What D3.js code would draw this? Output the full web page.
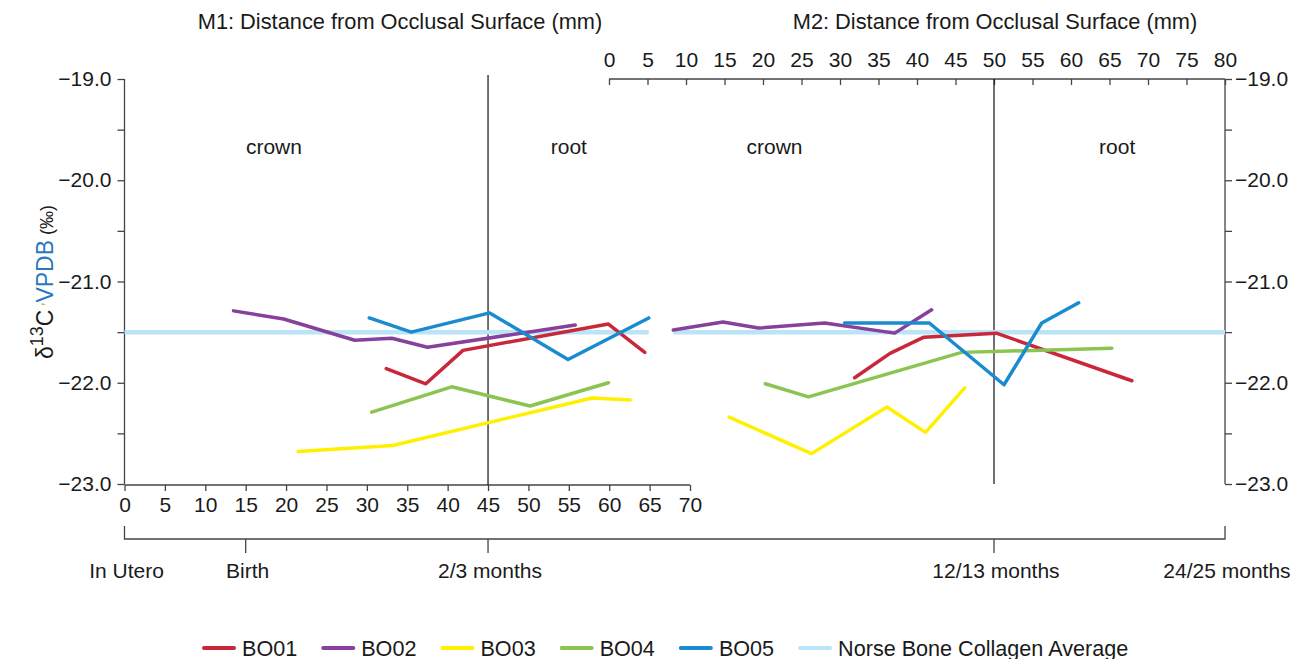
<!DOCTYPE html>
<html>
<head>
<meta charset="utf-8">
<script src="https://cdn.jsdelivr.net/npm/d3@7"></script>
<style>
  body { margin: 0; background: #fff; }
  text { font-family: "Liberation Sans", Arial, sans-serif; fill: #1a1a1a; }
</style>
</head>
<body>
<svg id="plot"></svg>
<script>
// Series names and colours
const seriesNames = ["BO01", "BO02", "BO03", "BO04", "BO05"];
const seriesColors = ["#c8283a", "#87409b", "#fff000", "#8cc452", "#1a8bcf"];

// M1 samples: [distance from occlusal surface (mm), d13C]
const m1BO01 = [[32.4, -21.86], [37.3, -22.01], [41.9, -21.68], [59.9, -21.42], [64.4, -21.70]];
const m1BO02 = [[13.5, -21.29], [19.7, -21.37], [28.5, -21.58], [33.1, -21.56], [37.5, -21.65], [55.8, -21.43]];
const m1BO03 = [[21.5, -22.68], [33.2, -22.62], [57.9, -22.15], [62.6, -22.17]];
const m1BO04 = [[30.6, -22.29], [40.5, -22.04], [50.2, -22.23], [59.9, -22.00]];
const m1BO05 = [[30.3, -21.36], [35.5, -21.50], [45.2, -21.31], [54.9, -21.77], [64.9, -21.36]];

// M2 samples
const m2BO01 = [[31.9, -21.95], [36.5, -21.71], [40.9, -21.55], [50.3, -21.51], [67.9, -21.98]];
const m2BO02 = [[8.35, -21.48], [14.8, -21.40], [19.4, -21.46], [28.0, -21.41], [37.1, -21.51], [41.9, -21.28]];
const m2BO03 = [[15.6, -22.34], [26.3, -22.70], [36.1, -22.24], [41.1, -22.49], [46.2, -22.05]];
const m2BO04 = [[20.3, -22.01], [25.9, -22.14], [45.8, -21.70], [65.3, -21.66]];
const m2BO05 = [[30.6, -21.41], [41.6, -21.41], [51.3, -22.02], [56.2, -21.41], [61.0, -21.21]];

// Norse bone collagen average
const avgValue = -21.5;
const avgM1Span = [0, 64.9];
const avgM2Span = [8.35, 80];

// Axis ticks
const yTicks = d3.range(-23, -18.9, 0.5);
const m1Ticks = d3.range(0, 71, 5);
const m2Ticks = d3.range(0, 81, 5);

// Age timeline: label, tooth, mm
const ageLabels = ["In Utero", "Birth", "2/3 months", "12/13 months", "24/25 months"];
const ageTooth = ["M1", "M1", "M1", "M2", "M2"];
const ageMm = [0, 15, 45, 50, 80];

const W = 1291, H = 659;
const svg = d3.select("#plot").attr("width", W).attr("height", H);

const y = d3.scaleLinear().domain([-23, -19]).range([484, 79]);
const xM1 = d3.scaleLinear().domain([0, 70]).range([124.5, 690]);
const xM2 = d3.scaleLinear().domain([0, 80]).range([609, 1225]);

const fmt = d3.format(".1f");
const axisColor = "#444";

function styleAxis(g) {
  g.selectAll("path, line").attr("stroke", axisColor).attr("stroke-width", 1.3);
  g.selectAll("text").style("font-size", "21px").attr("fill", "#1a1a1a");
}

// Left y axis
svg.append("g")
  .attr("transform", "translate(" + xM1(0) + ",0)")
  .call(d3.axisLeft(y).tickValues(yTicks).tickSize(7).tickPadding(6)
    .tickFormat(d => Number.isInteger(d) ? fmt(d) : ""))
  .call(styleAxis)
  .call(g => g.select(".domain").attr("d", "M0," + y(-19) + "V" + y(-23)));

// Right y axis
svg.append("g")
  .attr("transform", "translate(" + xM2(80) + ",0)")
  .call(d3.axisRight(y).tickValues(yTicks).tickSize(7).tickPadding(3)
    .tickFormat(d => Number.isInteger(d) ? fmt(d) : ""))
  .call(styleAxis)
  .call(g => g.select(".domain").attr("d", "M0," + y(-19) + "V" + y(-23)));

// Bottom M1 axis
svg.append("g")
  .attr("transform", "translate(0," + 485 + ")")
  .call(d3.axisBottom(xM1).tickValues(m1Ticks).tickSize(6).tickPadding(6))
  .call(styleAxis)
  .call(g => g.select(".domain").attr("d", "M" + xM1(0) + ",0H" + xM1(70)));

// Top M2 axis (ticks hang down, labels above)
svg.append("g")
  .attr("transform", "translate(0," + y(-19) + ")")
  .call(d3.axisTop(xM2).tickValues(m2Ticks).tickSizeInner(-6).tickSizeOuter(0).tickPadding(12))
  .call(styleAxis)
  .call(g => g.select(".domain").attr("d", "M" + xM2(0) + ",0H" + xM2(80)));

// Axis titles
svg.append("text").attr("x", 400).attr("y", 29).attr("text-anchor", "middle")
  .style("font-size", "21.8px").text("M1: Distance from Occlusal Surface (mm)");
svg.append("text").attr("x", 995).attr("y", 29).attr("text-anchor", "middle")
  .style("font-size", "21.8px").text("M2: Distance from Occlusal Surface (mm)");

// Y axis label
const yLab = svg.append("text")
  .attr("transform", "translate(53," + 282 + ") rotate(-90)")
  .attr("text-anchor", "middle")
  .style("font-size", "23px");
yLab.append("tspan").text("δ");
yLab.append("tspan").attr("dy", -10).style("font-size", "18px").text("13");
yLab.append("tspan").attr("dy", 10).text("C");
yLab.append("tspan").style("font-size", "14px").attr("fill", "#e08a2c").text(" ʼ");
yLab.append("tspan").attr("fill", "#2a78c0").text("VPDB");
yLab.append("tspan").style("font-size", "18px").text(" (‰)");

// Crown / root divider lines
svg.append("line")
  .attr("x1", xM1(45)).attr("x2", xM1(45)).attr("y1", 75).attr("y2", 485)
  .attr("stroke", "#111").attr("stroke-width", 1.2);
svg.append("line")
  .attr("x1", xM2(50)).attr("x2", xM2(50)).attr("y1", y(-19)).attr("y2", y(-23))
  .attr("stroke", "#111").attr("stroke-width", 1.2);

// Crown / root labels
[[xM1(18.5), "crown"], [xM1(55), "root"], [xM2(21.5), "crown"], [xM2(66), "root"]].forEach(function(d) {
  svg.append("text").attr("x", d[0]).attr("y", 154).attr("text-anchor", "middle")
    .style("font-size", "21px").text(d[1]);
});

// Average line
const avgLine = d3.line();
svg.append("path")
  .attr("d", avgLine(avgM1Span.map(v => [xM1(v), y(avgValue)])))
  .attr("stroke", "#bce4f8").attr("stroke-width", 4.5).attr("fill", "none");
svg.append("path")
  .attr("d", avgLine(avgM2Span.map(v => [xM2(v), y(avgValue)])))
  .attr("stroke", "#bce4f8").attr("stroke-width", 4.5).attr("fill", "none");

// Series lines
const m1Data = [m1BO01, m1BO02, m1BO03, m1BO04, m1BO05];
const m2Data = [m2BO01, m2BO02, m2BO03, m2BO04, m2BO05];
const lineM1 = d3.line().x(d => xM1(d[0])).y(d => y(d[1]));
const lineM2 = d3.line().x(d => xM2(d[0])).y(d => y(d[1]));

seriesNames.forEach(function(name, i) {
  svg.append("path").attr("d", lineM1(m1Data[i]))
    .attr("stroke", seriesColors[i]).attr("stroke-width", 3.5)
    .attr("stroke-linecap", "round").attr("stroke-linejoin", "round").attr("fill", "none");
  svg.append("path").attr("d", lineM2(m2Data[i]))
    .attr("stroke", seriesColors[i]).attr("stroke-width", 3.5)
    .attr("stroke-linecap", "round").attr("stroke-linejoin", "round").attr("fill", "none");
});

// Age timeline
const ageX = ageLabels.map((d, i) => ageTooth[i] === "M1" ? xM1(ageMm[i]) : xM2(ageMm[i]));
const tl = svg.append("g");
const tlY = 539;
tl.append("path")
  .attr("d", "M" + ageX[0] + "," + (tlY - 13) + "V" + tlY + "H" + ageX[4] + "V" + (tlY - 13))
  .attr("stroke", axisColor).attr("stroke-width", 1.3).attr("fill", "none");
ageX.slice(1, 4).forEach(function(x) {
  tl.append("line").attr("x1", x).attr("x2", x).attr("y1", tlY).attr("y2", tlY + 14)
    .attr("stroke", axisColor).attr("stroke-width", 1.3);
});
ageLabels.forEach(function(lab, i) {
  tl.append("text").attr("x", ageX[i] + 2).attr("y", 578).attr("text-anchor", "middle")
    .style("font-size", "21px").text(lab);
});

// Legend
const legNames = seriesNames.concat(["Norse Bone Collagen Average"]);
const legColors = seriesColors.concat(["#bce4f8"]);
let lx = 204;
legNames.forEach(function(name, i) {
  const g = svg.append("g").attr("transform", "translate(" + lx + ",648)");
  g.append("line").attr("x1", 0).attr("x2", 30).attr("y1", 0).attr("y2", 0)
    .attr("stroke", legColors[i]).attr("stroke-width", 4).attr("stroke-linecap", "round");
  const t = g.append("text").attr("x", 38).attr("y", 7.5).style("font-size", "21.6px").text(name);
  lx += 38 + t.node().getComputedTextLength() + 26;
});
</script>
</body>
</html>
